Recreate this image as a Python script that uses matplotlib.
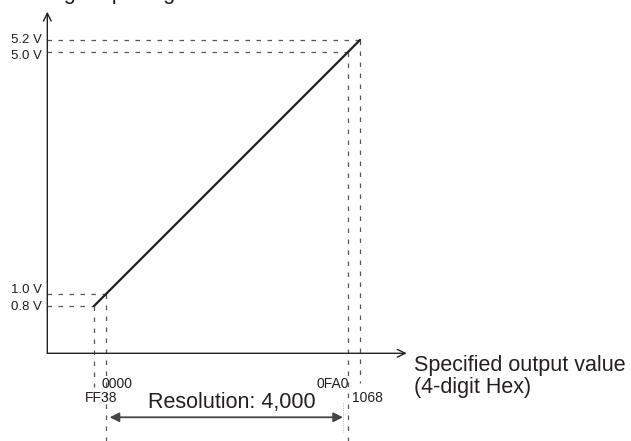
import matplotlib
matplotlib.use('Agg')
import matplotlib.pyplot as plt

# ── Data ───────────────────────────────────────────────────────────────────
codes       = [-200, 0, 4000, 4200]             # specified output value (signed)
code_labels = ['FF38', '0000', '0FA0', '1068']
volts       = [0.8, 1.0, 5.0, 5.2]              # analog output (V)
volt_labels = ['0.8 V', '1.0 V', '5.0 V', '5.2 V']
resolution  = 4000

# ── Layout (data units) ────────────────────────────────────────────────────
XMIN, XMAX = -1752, 8678
YMIN, YMAX = -1.43, 5.86
AX_X0, AX_Y0 = -970, 0.02        # origin of the drawn axes
AX_XEND, AX_YEND = 4970, 5.666
VDROP = [-0.537, YMIN, YMIN, -0.471]   # lower end of the vertical guides
VLAB_SHIFT = [-0.01, 0.06, -0.06, 0.0] # nudge voltage labels apart

FONT = 'Liberation Sans'
INK = '#231f20'
GUIDE = '#555555'
DASH = (0, (3.6, 5.2))

fig = plt.figure(figsize=(6.31, 4.41), dpi=100)
ax = fig.add_axes([0, 0, 1, 1])
ax.set_xlim(XMIN, XMAX)
ax.set_ylim(YMIN, YMAX)
ax.axis('off')

# axes with arrow heads
ax.annotate('', xy=(AX_XEND, AX_Y0), xytext=(AX_X0, AX_Y0),
            arrowprops=dict(arrowstyle='->', color=INK, lw=1.0,
                            mutation_scale=14, shrinkA=0, shrinkB=0))
ax.annotate('', xy=(AX_X0, AX_YEND), xytext=(AX_X0, AX_Y0),
            arrowprops=dict(arrowstyle='->', color=INK, lw=1.0,
                            mutation_scale=14, shrinkA=0, shrinkB=0))

# dashed guide lines
for c, v, lo in zip(codes, volts, VDROP):
    ax.plot([AX_X0, c], [v, v], color=GUIDE, lw=0.9, ls=DASH)
    ax.plot([c, c], [v, lo], color=GUIDE, lw=0.9, ls=DASH)

# conversion line
ax.plot([codes[0], codes[-1]], [volts[0], volts[-1]], color=INK, lw=1.6,
        solid_capstyle='round')

# voltage labels
for v, lab, dv in zip(volts, volt_labels, VLAB_SHIFT):
    ax.text(-1058, v + dv, lab, ha='right', va='center', fontsize=9.5,
            family=FONT, color=INK)

# hex labels: (x, y, ha) for each code
hex_pos = [(182, -0.785, 'right'), (-80, -0.554, 'left'),
           (4017, -0.554, 'right'), (4066, -0.785, 'left')]
for lab, (x, y, ha) in zip(code_labels, hex_pos):
    ax.text(x, y, lab, ha=ha, va='baseline', fontsize=10, family=FONT, color=INK)

# resolution arrow
ax.annotate('', xy=(3917, -1.038), xytext=(60, -1.038),
            arrowprops=dict(arrowstyle='<|-|>', color='#444444', lw=1.3,
                            mutation_scale=14, shrinkA=0, shrinkB=0))
ax.plot([3917, 3917], [-0.80, -1.28], color='#999999', lw=0.6, ls=':')
ax.text(694, -0.884, f'Resolution: {resolution:,}', ha='left', va='baseline',
        fontsize=15.5, family=FONT, color=INK)

# axis titles
ax.text(5091, -0.273, 'Specified output value', ha='left', va='baseline',
        fontsize=15.5, family=FONT, color=INK)
ax.text(5091, -0.636, '(4-digit Hex)', ha='left', va='baseline',
        fontsize=15.5, family=FONT, color=INK)
ax.text(-1603, 5.876, 'Analog output signal', ha='left', va='baseline',
        fontsize=15.5, family=FONT, color=INK)

fig.savefig('out.png', dpi=100)
